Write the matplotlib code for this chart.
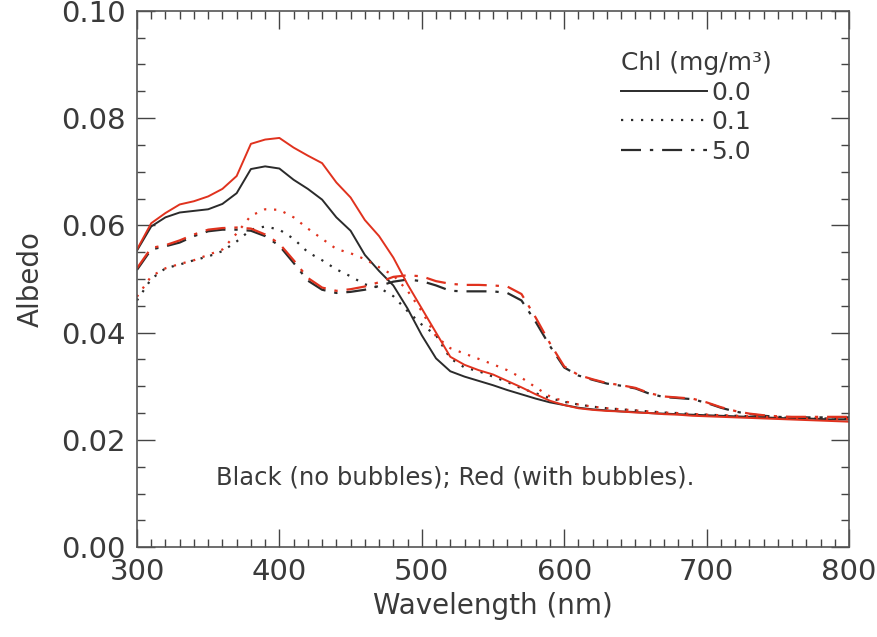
import numpy as np
import matplotlib
matplotlib.use("Agg")
import matplotlib.pyplot as plt
from matplotlib.ticker import MultipleLocator
from matplotlib.lines import Line2D

# Wavelength grid (nm)
wavelength = np.arange(300, 801, 10)

# Black = no bubbles, Red = with bubbles; Chl 0.0 / 0.1 / 5.0 mg/m^3
black_chl00 = [0.0553, 0.0598, 0.0615, 0.0624, 0.0627, 0.0630, 0.0640, 0.0660, 0.0705, 0.0710,
               0.0706, 0.0685, 0.0668, 0.0648, 0.0615, 0.0590, 0.0545, 0.0515, 0.0488, 0.0445,
               0.0395, 0.0352, 0.0328, 0.0318, 0.0310, 0.0302, 0.0293, 0.0285, 0.0277, 0.0270,
               0.0265, 0.0260, 0.0257, 0.0255, 0.0253, 0.0252, 0.0250, 0.0249, 0.0248, 0.0247,
               0.0246, 0.0245, 0.0244, 0.0243, 0.0242, 0.0241, 0.0240, 0.0240, 0.0239, 0.0238,
               0.0238]
red_chl00 = [0.0555, 0.0604, 0.0623, 0.0639, 0.0645, 0.0654, 0.0668, 0.0692, 0.0752, 0.0760,
             0.0763, 0.0745, 0.0730, 0.0716, 0.0680, 0.0652, 0.0610, 0.0580, 0.0540, 0.0490,
             0.0445, 0.0400, 0.0355, 0.0340, 0.0330, 0.0322, 0.0310, 0.0298, 0.0285, 0.0273,
             0.0265, 0.0259, 0.0256, 0.0254, 0.0253, 0.0251, 0.0250, 0.0248, 0.0247, 0.0245,
             0.0244, 0.0243, 0.0242, 0.0241, 0.0240, 0.0239, 0.0238, 0.0237, 0.0236, 0.0235,
             0.0234]
black_chl01 = [0.0460, 0.0500, 0.0520, 0.0527, 0.0535, 0.0542, 0.0552, 0.0570, 0.0592, 0.0598,
               0.0592, 0.0575, 0.0550, 0.0535, 0.0518, 0.0505, 0.0490, 0.0484, 0.0468, 0.0440,
               0.0415, 0.0395, 0.0352, 0.0335, 0.0328, 0.0318, 0.0308, 0.0296, 0.0287, 0.0278,
               0.0271, 0.0266, 0.0262, 0.0259, 0.0257, 0.0255, 0.0253, 0.0251, 0.0250, 0.0248,
               0.0247, 0.0246, 0.0245, 0.0244, 0.0243, 0.0242, 0.0241, 0.0241, 0.0240, 0.0240,
               0.0240]
red_chl01 = [0.0467, 0.0505, 0.0520, 0.0528, 0.0535, 0.0545, 0.0555, 0.0585, 0.0618, 0.0630,
             0.0629, 0.0615, 0.0594, 0.0575, 0.0556, 0.0548, 0.0537, 0.0522, 0.0507, 0.0478,
             0.0440, 0.0393, 0.0371, 0.0361, 0.0351, 0.0341, 0.0330, 0.0316, 0.0298, 0.0281,
             0.0272, 0.0266, 0.0262, 0.0259, 0.0257, 0.0255, 0.0253, 0.0251, 0.0250, 0.0248,
             0.0247, 0.0246, 0.0245, 0.0244, 0.0243, 0.0242, 0.0241, 0.0240, 0.0240, 0.0239,
             0.0239]
black_chl50 = [0.0517, 0.0555, 0.0561, 0.0568, 0.0580, 0.0589, 0.0592, 0.0592, 0.0590, 0.0580,
               0.0562, 0.0530, 0.0497, 0.0480, 0.0474, 0.0476, 0.0480, 0.0487, 0.0495, 0.0499,
               0.0496, 0.0488, 0.0478, 0.0477, 0.0477, 0.0477, 0.0474, 0.0460, 0.0420, 0.0375,
               0.0335, 0.0320, 0.0312, 0.0305, 0.0301, 0.0296, 0.0286, 0.0280, 0.0278, 0.0276,
               0.0269, 0.0260, 0.0253, 0.0248, 0.0245, 0.0243, 0.0242, 0.0242, 0.0242, 0.0242,
               0.0242]
red_chl50 = [0.0520, 0.0558, 0.0563, 0.0572, 0.0583, 0.0592, 0.0595, 0.0596, 0.0594, 0.0583,
             0.0566, 0.0535, 0.0502, 0.0484, 0.0478, 0.0481, 0.0486, 0.0494, 0.0504, 0.0507,
             0.0505, 0.0496, 0.0491, 0.0489, 0.0489, 0.0488, 0.0486, 0.0472, 0.0428, 0.0380,
             0.0337, 0.0321, 0.0313, 0.0306, 0.0302, 0.0297, 0.0287, 0.0281, 0.0279, 0.0277,
             0.0270, 0.0261, 0.0254, 0.0249, 0.0246, 0.0244, 0.0243, 0.0243, 0.0243, 0.0243,
             0.0243]

chl_labels = ['0.0', '0.1', '5.0']

BLACK = '#2b2b2b'
RED = '#e0321e'
TEXT = '#3a3a3a'
dotted = (0, (1, 3.5))
dashdot = (0, (9, 4, 1.5, 4))

plt.rcParams['font.family'] = ['DejaVu Sans']

fig = plt.figure(figsize=(8.78, 6.37), dpi=100)
ax = fig.add_axes([0.156, 0.141, 0.811, 0.842])

ax.plot(wavelength, black_chl00, color=BLACK, lw=1.4, ls='-')
ax.plot(wavelength, black_chl01, color=BLACK, lw=1.6, ls=dotted)
ax.plot(wavelength, black_chl50, color=BLACK, lw=1.6, ls=dashdot)
ax.plot(wavelength, red_chl00, color=RED, lw=1.4, ls='-')
ax.plot(wavelength, red_chl01, color=RED, lw=1.6, ls=dotted)
ax.plot(wavelength, red_chl50, color=RED, lw=1.6, ls=dashdot)

ax.set_xlim(300, 800)
ax.set_ylim(0.0, 0.10)
ax.xaxis.set_major_locator(MultipleLocator(100))
ax.xaxis.set_minor_locator(MultipleLocator(10))
ax.yaxis.set_major_locator(MultipleLocator(0.02))
ax.yaxis.set_minor_locator(MultipleLocator(0.005))
ax.yaxis.set_major_formatter(plt.FormatStrFormatter('%.2f'))

ax.tick_params(which='both', direction='in', top=True, right=True,
               color='#444444', width=1.0, labelsize=21, labelcolor=TEXT)
ax.tick_params(which='major', length=13, pad=8)
ax.tick_params(which='minor', length=6)
for s in ax.spines.values():
    s.set_color('#555555')
    s.set_linewidth(1.2)

ax.set_xlabel('Wavelength (nm)', fontsize=20, color=TEXT, labelpad=4)
ax.set_ylabel('Albedo', fontsize=20, color=TEXT, labelpad=12)

ax.text(0.447, 0.13, 'Black (no bubbles); Red (with bubbles).', transform=ax.transAxes,
        ha='center', va='center', fontsize=17.5, color=TEXT)

handles = [Line2D([], [], color=BLACK, lw=1.4, ls='-'),
           Line2D([], [], color=BLACK, lw=1.6, ls=dotted),
           Line2D([], [], color=BLACK, lw=1.6, ls=dashdot)]
leg = ax.legend(handles, chl_labels, title='Chl (mg/m³)', loc='upper left',
                bbox_to_anchor=(0.68, 0.925), frameon=False, fontsize=18,
                title_fontsize=18, handlelength=3.45, handletextpad=0.15,
                labelspacing=0.22, borderpad=0.0, borderaxespad=0.0, alignment='left')
for t in leg.get_texts():
    t.set_color(TEXT)
leg.get_title().set_color(TEXT)

fig.savefig('out.png', dpi=100)
